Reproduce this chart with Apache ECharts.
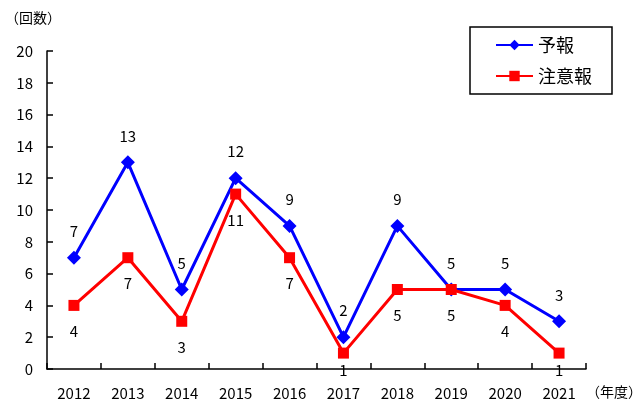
<!DOCTYPE html>
<html><head><meta charset="utf-8">
<script src="https://cdn.jsdelivr.net/npm/echarts@6/dist/echarts.min.js"></script>
<style>html,body{margin:0;padding:0;background:#fff}#c{width:634px;height:403px}</style>
</head><body><div id="c"></div>
<script>
const categories = ['2012','2013','2014','2015','2016','2017','2018','2019','2020','2021'];
const yohou = [7,13,5,12,9,2,9,5,5,3];
const chuiho = [4,7,3,11,7,1,5,5,4,1];
const seriesNames = ['予報','注意報'];

const font = '"Noto Sans CJK JP", "Liberation Sans", sans-serif';
// labels that would fall below the axis are pulled up (as in the reference)
const chuihoData = chuiho.map(v => v <= 1 ? {value: v, label: {distance: 4}} : v);
const chart = echarts.init(document.getElementById('c'));
chart.setOption({
  animation: false,
  textStyle: {fontFamily: font, color: '#000'},
  grid: {left: 47, right: 48, top: 51, bottom: 34, containLabel: false, outerBoundsMode: 'none'},
  legend: {
    right: 22, top: 27, orient: 'vertical',
    borderColor: '#000', borderWidth: 1.5, padding: [9, 20, 9, 25],
    itemGap: 13, itemWidth: 37, itemHeight: 13,
    textStyle: {fontSize: 18, color: '#000', fontFamily: font},
    data: seriesNames
  },
  xAxis: {
    type: 'category', data: categories, boundaryGap: true,
    axisLine: {lineStyle: {color: '#000', width: 1.5}},
    axisTick: {show: true, inside: true, length: 6, lineStyle: {color: '#000', width: 1.5}},
    axisLabel: {fontSize: 15, color: '#000', margin: 17, fontFamily: font},
    name: '（年度）', nameLocation: 'end', nameGap: 0,
    nameTextStyle: {fontSize: 14, color: '#000', verticalAlign: 'top', padding: [16, 0, 0, 0]}
  },
  yAxis: {
    type: 'value', min: 0, max: 20, interval: 2,
    splitLine: {show: false},
    axisLine: {show: true, lineStyle: {color: '#000', width: 1.5}},
    axisTick: {show: true, inside: true, length: 6, lineStyle: {color: '#000', width: 1.5}},
    axisLabel: {fontSize: 15, color: '#000', margin: 14, fontFamily: font},
    name: '（回数）', nameLocation: 'end', nameGap: 26,
    nameTextStyle: {fontSize: 14, color: '#000', align: 'center', padding: [0, 0, 0, -28]}
  },
  series: [
    {
      name: seriesNames[0], type: 'line', data: yohou,
      symbol: 'diamond', symbolSize: 14,
      lineStyle: {color: '#0000ff', width: 3},
      itemStyle: {color: '#0000ff'},
      label: {show: true, position: 'top', distance: 12, fontSize: 15, color: '#000'},
      z: 2
    },
    {
      name: seriesNames[1], type: 'line', data: chuihoData,
      symbol: 'rect', symbolSize: 11,
      lineStyle: {color: '#ff0000', width: 3},
      itemStyle: {color: '#ff0000'},
      label: {show: true, position: 'bottom', distance: 13, fontSize: 15, color: '#000'},
      z: 3
    }
  ]
});
</script></body></html>
